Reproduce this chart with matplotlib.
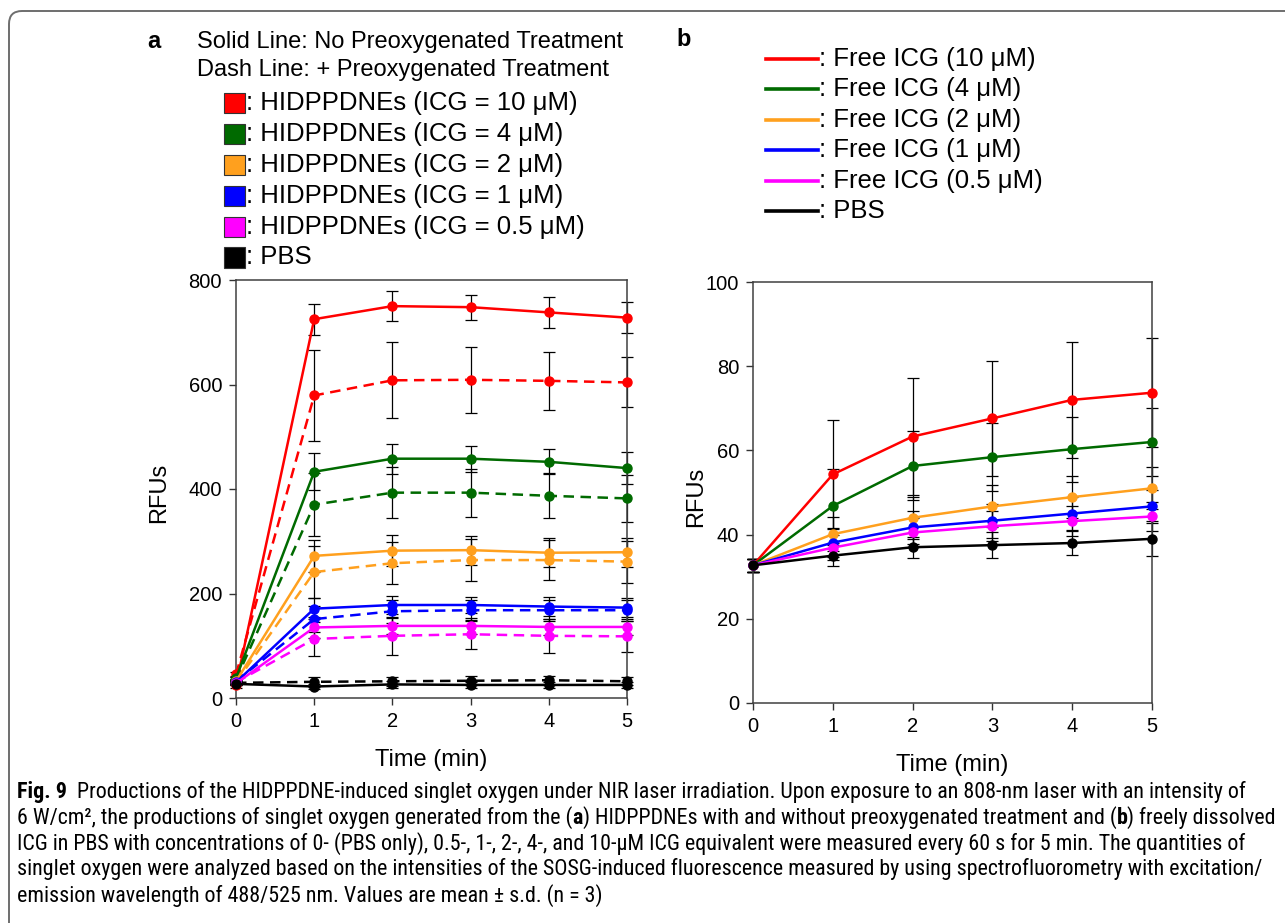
import matplotlib
matplotlib.use("Agg")
import matplotlib.pyplot as plt
from matplotlib import font_manager
from matplotlib.patches import Rectangle, FancyBboxPatch
from matplotlib.lines import Line2D
from matplotlib.transforms import IdentityTransform

# ---- data ----
time_min = [0, 1, 2, 3, 4, 5]

conc_labels_a = ["HIDPPDNEs (ICG = 10 \u03bcM)", "HIDPPDNEs (ICG = 4 \u03bcM)",
                 "HIDPPDNEs (ICG = 2 \u03bcM)", "HIDPPDNEs (ICG = 1 \u03bcM)",
                 "HIDPPDNEs (ICG = 0.5 \u03bcM)", "PBS"]
conc_labels_b = ["Free ICG (10 \u03bcM)", "Free ICG (4 \u03bcM)", "Free ICG (2 \u03bcM)",
                 "Free ICG (1 \u03bcM)", "Free ICG (0.5 \u03bcM)", "PBS"]
colors = ["#ff0000", "#006a00", "#ffa01e", "#0000ff", "#ff00ff", "#000000"]

# panel a, solid = no preoxygenation, dash = + preoxygenation
a_solid = [
    [24, 725, 750, 748, 738, 728],
    [38, 433, 458, 458, 452, 440],
    [32, 272, 282, 283, 278, 279],
    [30, 171, 178, 178, 175, 173],
    [28, 135, 138, 138, 136, 136],
    [27, 22, 26, 25, 25, 25],
]
a_solid_err = [
    [5, 30, 29, 24, 29, 29],
    [5, 35, 29, 25, 24, 30],
    [5, 30, 30, 28, 28, 28],
    [4, 20, 18, 16, 18, 18],
    [4, 20, 15, 15, 15, 15],
    [3, 5, 6, 6, 6, 6],
]
a_dash = [
    [45, 579, 608, 609, 607, 604],
    [35, 370, 393, 393, 387, 382],
    [30, 241, 258, 264, 264, 261],
    [32, 151, 166, 168, 168, 168],
    [30, 113, 119, 122, 119, 118],
    [29, 31, 32, 33, 34, 32],
]
a_dash_err = [
    [5, 87, 73, 63, 55, 48],
    [5, 60, 49, 46, 43, 45],
    [5, 50, 40, 40, 38, 40],
    [4, 25, 22, 20, 20, 20],
    [4, 32, 36, 28, 33, 30],
    [3, 9, 9, 9, 9, 8],
]

# panel b, free ICG
b_vals = [
    [32.7, 54.3, 63.3, 67.6, 72.0, 73.7],
    [32.7, 46.8, 56.3, 58.4, 60.3, 62.0],
    [32.7, 40.1, 44.0, 46.7, 48.9, 51.0],
    [32.7, 38.1, 41.7, 43.3, 45.0, 46.7],
    [32.7, 36.9, 40.5, 42.0, 43.2, 44.3],
    [32.7, 35.0, 37.0, 37.5, 38.0, 39.0],
]
b_err = [
    [1.5, 13.0, 14.0, 13.6, 13.7, 13.0],
    [1.5, 8.7, 8.2, 8.0, 7.7, 8.0],
    [1.5, 4.0, 5.0, 5.0, 5.0, 5.0],
    [1.5, 3.5, 4.0, 4.0, 4.0, 4.0],
    [1.5, 3.0, 3.5, 3.5, 3.5, 3.5],
    [1.5, 2.5, 2.5, 3.0, 2.8, 4.2],
]

caption_lines = [
    [("Fig. 9", "bold"), ("  Productions of the HIDPPDNE-induced singlet oxygen under NIR laser irradiation. "
                          "Upon exposure to an 808-nm laser with an intensity of", "normal")],
    [("6 W/cm\u00b2, the productions of singlet oxygen generated from the (", "normal"), ("a", "bold"),
     (") HIDPPDNEs with and without preoxygenated treatment and (", "normal"), ("b", "bold"),
     (") freely dissolved", "normal")],
    [("ICG in PBS with concentrations of 0- (PBS only), 0.5-, 1-, 2-, 4-, and 10-\u03bcM ICG equivalent "
      "were measured every 60 s for 5 min. The quantities of", "normal")],
    [("singlet oxygen were analyzed based on the intensities of the SOSG-induced fluorescence measured "
      "by using spectrofluorometry with excitation/", "normal")],
    [("emission wavelength of 488/525 nm. Values are mean \u00b1 s.d. (n = 3)", "normal")],
]
caption_widths = [1248, 1260, 1245, 1245, 600]   # rough px widths of each caption line

# ---- fonts ----
installed = {f.name for f in font_manager.fontManager.ttflist}
plt.rcParams["font.family"] = ["Liberation Sans", "DejaVu Sans"]
cap_family = ["DejaVu Sans"]
for name in ["Liberation Sans Narrow", "Roboto Condensed", "Open Sans Condensed",
             "Noto Sans Condensed", "Roboto", "Liberation Sans"]:
    if name in installed:
        cap_family = [name, "DejaVu Sans"]
        break

W, H = 1285, 923
fig = plt.figure(figsize=(W / 100, H / 100), dpi=100)


def fx(px):
    return px / W


def fy(py):
    return 1 - py / H


def style_axes(ax, ymax, ystep, ylab_x):
    ax.set_xlim(0, 5)
    ax.set_ylim(0, ymax)
    ax.set_xticks(time_min)
    ax.set_yticks(range(0, ymax + 1, ystep))
    ax.tick_params(direction="out", length=5, width=1, labelsize=14.5, pad=5, color="#333333")
    for s in ax.spines.values():
        s.set_color("#404040")
        s.set_linewidth(1.1)
    ax.set_xlabel("Time (min)", fontsize=17, labelpad=13)
    ax.set_ylabel("RFUs", fontsize=17)
    ax.yaxis.set_label_coords(ylab_x, 0.49)


dash = (0, (4.2, 2.6))

# ---- panel a ----
axa = fig.add_axes([fx(236), fy(698), fx(627 - 236), (698 - 280) / H])
for vals, errs in ((a_dash, a_dash_err), (a_solid, a_solid_err)):
    for y, e in zip(vals, errs):
        axa.errorbar(time_min, y, yerr=e, fmt="none", ecolor="black", elinewidth=0.9,
                     capsize=4, capthick=0.9, clip_on=False, zorder=2)
for vals, ls in ((a_dash, dash), (a_solid, "-")):
    for c, y in zip(colors, vals):
        axa.plot(time_min, y, color=c, ls=ls, lw=1.8, marker="o", ms=6.5, clip_on=False, zorder=3)
style_axes(axa, 800, 200, (170 - 236) / 391)

# ---- panel b ----
axb = fig.add_axes([fx(753), fy(703), fx(1152 - 753), (703 - 282) / H])
for y, e in zip(b_vals, b_err):
    axb.errorbar(time_min, y, yerr=e, fmt="none", ecolor="black", elinewidth=0.9,
                 capsize=4, capthick=0.9, clip_on=False, zorder=2)
for c, y in zip(colors, b_vals):
    axb.plot(time_min, y, color=c, lw=1.8, marker="o", ms=6.5, clip_on=False, zorder=3)
style_axes(axb, 100, 20, (707 - 753) / 399)

# ---- legends / headers ----
fig.text(fx(147), fy(42), "a", fontsize=17, weight="bold", va="center")
fig.text(fx(676), fy(40), "b", fontsize=17, weight="bold", va="center")
fig.text(fx(197), fy(42), "Solid Line: No Preoxygenated Treatment", fontsize=17, va="center")
fig.text(fx(197), fy(70), "Dash Line: + Preoxygenated Treatment", fontsize=17, va="center")

for i, (c, lab) in enumerate(zip(colors, conc_labels_a)):
    yc = 103 + i * 30.9
    fig.add_artist(Rectangle((fx(224), fy(yc + 10)), fx(21), 20 / H, transform=fig.transFigure,
                             facecolor=c, edgecolor="#333333", lw=0.8))
    fig.text(fx(246), fy(yc), ": " + lab, fontsize=18.5, va="center")

for i, (c, lab) in enumerate(zip(colors, conc_labels_b)):
    yc = 59 + i * 30.4
    fig.add_artist(Line2D([fx(766), fx(818)], [fy(yc), fy(yc)], transform=fig.transFigure,
                          color=c, lw=2.6))
    fig.text(fx(819), fy(yc), ": " + lab, fontsize=18.5, va="center")

# ---- caption: size chosen so that every line fits its width ----
renderer = fig.canvas.get_renderer()
ratio = []
for runs, target in zip(caption_lines, caption_widths):
    w = 0
    for txt, wt in runs:
        p = fig.text(0, 0, txt, fontsize=12, weight=wt, family=cap_family)
        w += p.get_window_extent(renderer).width
        p.remove()
    ratio.append(target / w)
cap_size = 12 * min(ratio)

for i, runs in enumerate(caption_lines):
    x = 17
    yc = 792 + i * 25.8
    for txt, wt in runs:
        t = fig.text(fx(x), fy(yc), txt, fontsize=cap_size, weight=wt, family=cap_family, va="center")
        x += t.get_window_extent(renderer).width

# ---- rounded frame (top-left corner visible) ----
frame = FancyBboxPatch((9, -100), 1500, (H - 11) + 100,
                       boxstyle="round,pad=0,rounding_size=13", transform=IdentityTransform(),
                       facecolor="none", edgecolor="#6e6e6e", lw=1.4)
fig.add_artist(frame)

fig.savefig("out.png", dpi=100)
